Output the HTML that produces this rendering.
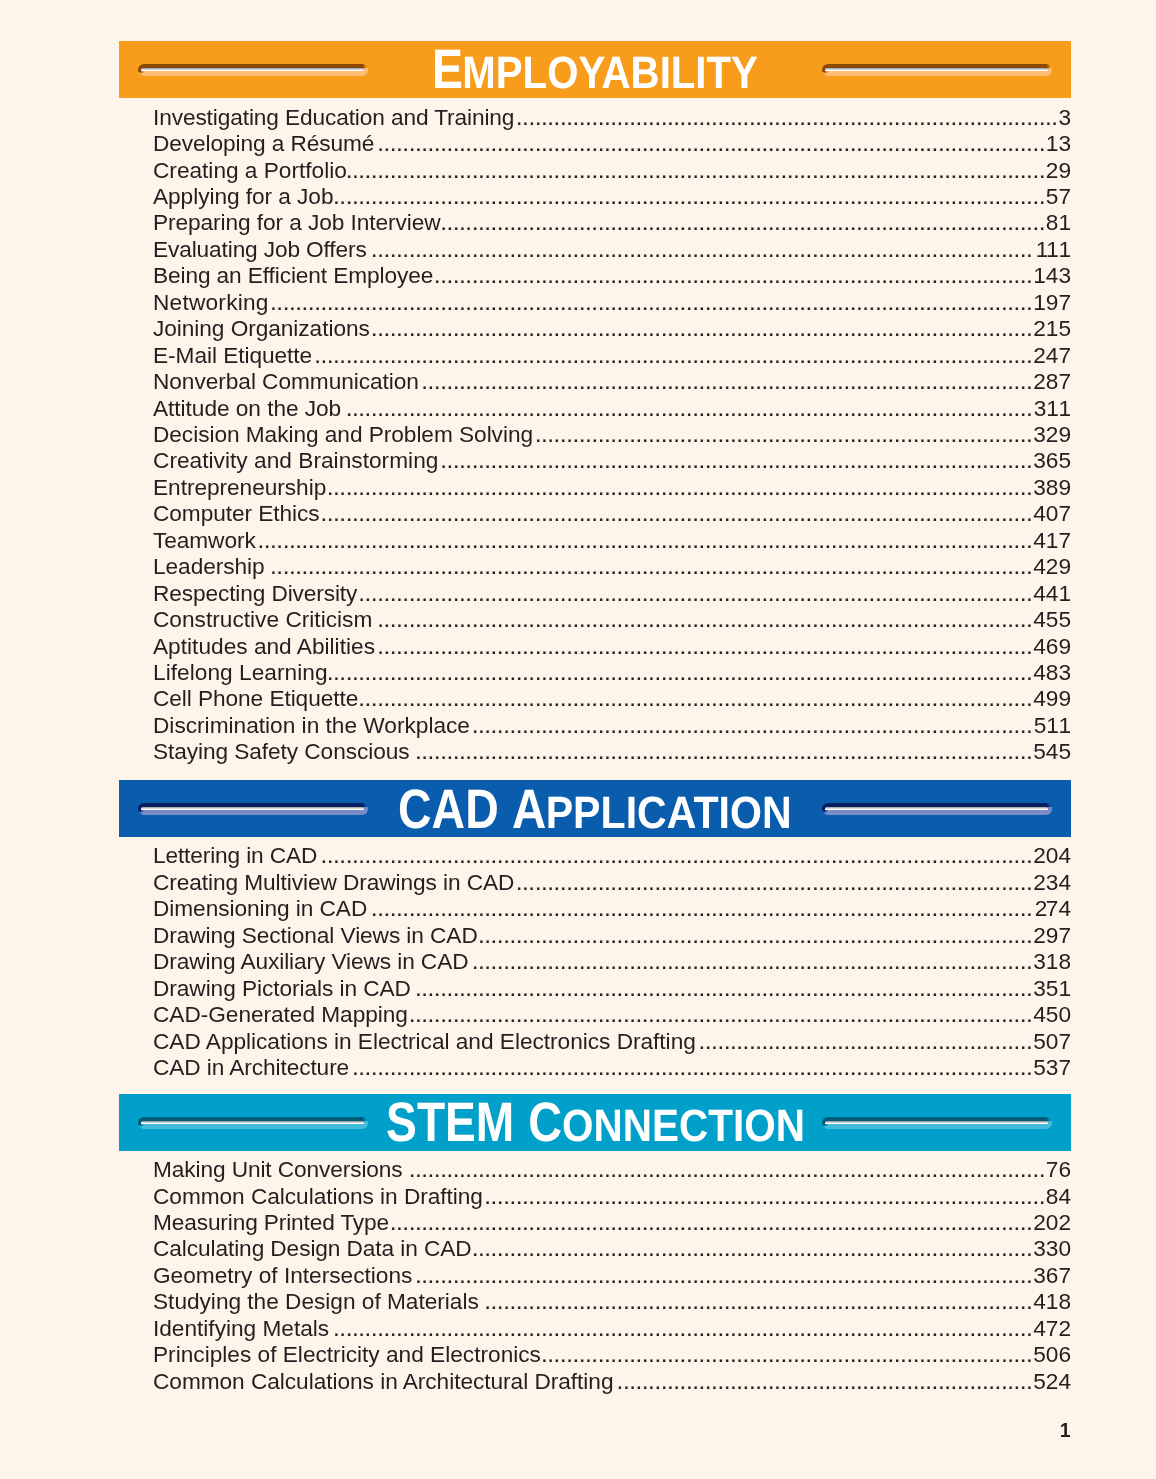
<!DOCTYPE html>
<html lang="en"><head><meta charset="utf-8"><title>Features</title>
<style>
html,body{margin:0;padding:0}
body{width:1156px;height:1479px;background:#fef4e9;overflow:hidden;position:relative;
 font-family:"Liberation Sans",sans-serif;color:#231f20}
.hd{position:absolute;left:119px;width:952px}
.emp{background:#f89c1c}
.cad{background:#0a5cad}
.stem{background:#00a0cb}
.gr{position:absolute;top:22.5px;height:12px;width:230px;border-radius:6px;overflow:hidden;filter:blur(.35px)}
.gr.l{left:18.8px}
.gr.r{left:702.5px}
.gr:after{content:"";position:absolute;left:3.5px;right:3.5px;top:4px;height:3.4px;border-radius:1.7px 1.7px 0 0;}
.emp .gr{background:linear-gradient(to left,#f89c1c 0,#f89c1c 1px,transparent 5.5px) right top/6px 4.2px no-repeat,linear-gradient(to right,#f89c1c 0,#f89c1c .5px,transparent 4.5px) left bottom/5px 3.6px no-repeat,linear-gradient(to right,#8a4800 0,#8a4800 2.5px,transparent 6px) left top/7px 9px no-repeat,linear-gradient(to left,#fdbd72 0,#fdbd72 3px,transparent 6px) right bottom/7px 7.8px no-repeat,linear-gradient(#8a4800 0,#8a4800 4.2px,#fdbd72 6.8px,#fdbd72 12px)}
.cad .gr{background:linear-gradient(to left,#0a5cad 0,#0a5cad 1px,transparent 5.5px) right top/6px 4.2px no-repeat,linear-gradient(to right,#0a5cad 0,#0a5cad .5px,transparent 4.5px) left bottom/5px 3.6px no-repeat,linear-gradient(to right,#041e60 0,#041e60 2.5px,transparent 6px) left top/7px 9px no-repeat,linear-gradient(to left,#7a8bc7 0,#7a8bc7 3px,transparent 6px) right bottom/7px 7.8px no-repeat,linear-gradient(#041e60 0,#041e60 4.2px,#7a8bc7 6.8px,#7a8bc7 12px)}
.stem .gr{background:linear-gradient(to left,#00a0cb 0,#00a0cb 1px,transparent 5.5px) right top/6px 4.2px no-repeat,linear-gradient(to right,#00a0cb 0,#00a0cb .5px,transparent 4.5px) left bottom/5px 3.6px no-repeat,linear-gradient(to right,#005d79 0,#005d79 2.5px,transparent 6px) left top/7px 9px no-repeat,linear-gradient(to left,#45bbdc 0,#45bbdc 3px,transparent 6px) right bottom/7px 7.8px no-repeat,linear-gradient(#005d79 0,#005d79 4.2px,#45bbdc 6.8px,#45bbdc 12px)}
.emp .gr:after{background:linear-gradient(#8b96a6,#fff 80%)}
.cad .gr:after{background:linear-gradient(#9a9a98,#fff 80%)}
.stem .gr:after{background:linear-gradient(#8a8a8a,#fff 80%)}
svg{position:absolute;left:0;top:0;overflow:visible}
text{font-family:"Liberation Sans",sans-serif;font-weight:bold;fill:#fff;text-rendering:geometricPrecision;stroke-width:0px}
.emp text{stroke:#f89c1c}
.cad text{stroke:#0a5cad}
.stem text{stroke:#00a0cb}
.b{font-size:55.5px}
.s{font-size:45.3px}
ul{position:absolute;left:153px;width:918px;margin:0;padding:0;list-style:none;font-size:22.667px;line-height:26.444px}
li{position:absolute;left:0;width:918px;height:26.444px;white-space:nowrap}
.t{letter-spacing:0px}
.d{position:absolute;top:0;text-align:right;letter-spacing:0.006px;-webkit-text-stroke:0.2px #231f20}
.n{position:absolute;right:0;top:0}
.k{letter-spacing:-0.5px}
.pg{position:absolute;font-weight:bold;font-size:19.4px;line-height:20px;right:85.5px;top:1420.4px}
</style></head><body>
<div class="hd emp" style="top:41.4px;height:56.4px"><i class="gr l"></i><i class="gr r"></i><svg width="952" height="56.4" viewBox="0 0 952 56.4"><text y="47.20"><tspan class="b" x="313.01" y="47.20" textLength="30.99" lengthAdjust="spacingAndGlyphs">E</tspan><tspan class="s" x="343.25" y="47.20" textLength="295.70" lengthAdjust="spacingAndGlyphs">MPLOYABILITY</tspan></text></svg></div>
<ul style="top:0">
<li style="top:104px"><span class="t" style="letter-spacing:-0.11px">Investigating Education and Training</span><span class="d" style="right:13.11px">......................................................................................</span><span class="n">3</span></li>
<li style="top:130px"><span class="t" style="letter-spacing:-0.08px">Developing a Résumé</span><span class="d" style="right:25.73px">..........................................................................................................</span><span class="n">13</span></li>
<li style="top:157px"><span class="t" style="letter-spacing:-0.007px">Creating a Portfolio</span><span class="d" style="right:25.73px">...............................................................................................................</span><span class="n">29</span></li>
<li style="top:183px"><span class="t" style="letter-spacing:-0.05px">Applying for a Job</span><span class="d" style="right:25.73px">.................................................................................................................</span><span class="n">57</span></li>
<li style="top:209px"><span class="t" style="letter-spacing:-0.072px">Preparing for a Job Interview</span><span class="d" style="right:25.73px">................................................................................................</span><span class="n">81</span></li>
<li style="top:236px"><span class="t" style="letter-spacing:-0.121px">Evaluating Job Offers</span><span class="d" style="right:38.34px">.........................................................................................................</span><span class="n"><span class="k">11</span>1</span></li>
<li style="top:262px"><span class="t" style="letter-spacing:-0.105px">Being an Efficient Employee</span><span class="d" style="right:38.34px">...............................................................................................</span><span class="n">143</span></li>
<li style="top:289px"><span class="t" style="letter-spacing:0.228px">Networking</span><span class="d" style="right:38.34px">.........................................................................................................................</span><span class="n">197</span></li>
<li style="top:315px"><span class="t" style="letter-spacing:-0.054px">Joining Organizations</span><span class="d" style="right:38.34px">.........................................................................................................</span><span class="n">215</span></li>
<li style="top:342px"><span class="t" style="letter-spacing:-0.049px">E-Mail Etiquette</span><span class="d" style="right:38.34px">..................................................................................................................</span><span class="n">247</span></li>
<li style="top:368px"><span class="t" style="letter-spacing:-0.045px">Nonverbal Communication</span><span class="d" style="right:38.34px">.................................................................................................</span><span class="n">287</span></li>
<li style="top:395px"><span class="t" style="letter-spacing:-0.041px">Attitude on the Job</span><span class="d" style="right:38.34px">.............................................................................................................</span><span class="n">3<span class="k">1</span>1</span></li>
<li style="top:421px"><span class="t" style="letter-spacing:-0.045px">Decision Making and Problem Solving</span><span class="d" style="right:38.34px">...............................................................................</span><span class="n">329</span></li>
<li style="top:447px"><span class="t" style="letter-spacing:0.029px">Creativity and Brainstorming</span><span class="d" style="right:38.34px">..............................................................................................</span><span class="n">365</span></li>
<li style="top:474px"><span class="t" style="letter-spacing:-0.036px">Entrepreneurship</span><span class="d" style="right:38.34px">................................................................................................................</span><span class="n">389</span></li>
<li style="top:500px"><span class="t" style="letter-spacing:-0.065px">Computer Ethics</span><span class="d" style="right:38.34px">.................................................................................................................</span><span class="n">407</span></li>
<li style="top:527px"><span class="t" style="letter-spacing:-0.072px">Teamwork</span><span class="d" style="right:38.34px">...........................................................................................................................</span><span class="n">417</span></li>
<li style="top:553px"><span class="t" style="letter-spacing:-0.045px">Leadership</span><span class="d" style="right:38.34px">.........................................................................................................................</span><span class="n">429</span></li>
<li style="top:580px"><span class="t" style="letter-spacing:-0.113px">Respecting Diversity</span><span class="d" style="right:38.34px">...........................................................................................................</span><span class="n">441</span></li>
<li style="top:606px"><span class="t" style="letter-spacing:0.013px">Constructive Criticism</span><span class="d" style="right:38.34px">........................................................................................................</span><span class="n">455</span></li>
<li style="top:633px"><span class="t" style="letter-spacing:0.013px">Aptitudes and Abilities</span><span class="d" style="right:38.34px">........................................................................................................</span><span class="n">469</span></li>
<li style="top:659px"><span class="t" style="letter-spacing:0.04px">Lifelong Learning</span><span class="d" style="right:38.34px">................................................................................................................</span><span class="n">483</span></li>
<li style="top:685px"><span class="t" style="letter-spacing:-0.068px">Cell Phone Etiquette</span><span class="d" style="right:38.34px">...........................................................................................................</span><span class="n">499</span></li>
<li style="top:712px"><span class="t" style="letter-spacing:0.002px">Discrimination in the Workplace</span><span class="d" style="right:38.34px">.........................................................................................</span><span class="n">5<span class="k">1</span>1</span></li>
<li style="top:738px"><span class="t" style="letter-spacing:-0.071px">Staying Safety Conscious</span><span class="d" style="right:38.34px">..................................................................................................</span><span class="n">545</span></li>
</ul>
<div class="hd cad" style="top:780.4px;height:56.7px"><i class="gr l"></i><i class="gr r"></i><svg width="952" height="56.7" viewBox="0 0 952 56.7"><text y="47.80"><tspan class="b" x="279.04" y="47.80" textLength="100.67" lengthAdjust="spacingAndGlyphs">CAD</tspan> <tspan class="b" x="392.96" y="47.80" textLength="34.31" lengthAdjust="spacingAndGlyphs">A</tspan><tspan class="s" x="426.70" y="47.80" textLength="245.94" lengthAdjust="spacingAndGlyphs">PPLICATION</tspan></text></svg></div>
<ul style="top:0">
<li style="top:842px"><span class="t" style="letter-spacing:-0.127px">Lettering in CAD</span><span class="d" style="right:38.34px">.................................................................................................................</span><span class="n">204</span></li>
<li style="top:869px"><span class="t" style="letter-spacing:-0.073px">Creating Multiview Drawings in CAD</span><span class="d" style="right:38.34px">..................................................................................</span><span class="n">234</span></li>
<li style="top:895px"><span class="t" style="letter-spacing:-0.058px">Dimensioning in CAD</span><span class="d" style="right:38.34px">.........................................................................................................</span><span class="n"><span style="letter-spacing:-1.6px">2</span>74</span></li>
<li style="top:922px"><span class="t" style="letter-spacing:-0.077px">Drawing Sectional Views in CAD</span><span class="d" style="right:38.34px">........................................................................................</span><span class="n">297</span></li>
<li style="top:948px"><span class="t" style="letter-spacing:-0.09px">Drawing Auxiliary Views in CAD</span><span class="d" style="right:38.34px">.........................................................................................</span><span class="n">318</span></li>
<li style="top:975px"><span class="t" style="letter-spacing:-0.06px">Drawing Pictorials in CAD</span><span class="d" style="right:38.34px">..................................................................................................</span><span class="n">351</span></li>
<li style="top:1001px"><span class="t" style="letter-spacing:-0.036px">CAD-Generated Mapping</span><span class="d" style="right:38.34px">...................................................................................................</span><span class="n">450</span></li>
<li style="top:1028px"><span class="t" style="letter-spacing:-0.022px">CAD Applications in Electrical and Electronics Drafting</span><span class="d" style="right:38.34px">.....................................................</span><span class="n">507</span></li>
<li style="top:1054px"><span class="t" style="letter-spacing:-0.083px">CAD in Architecture</span><span class="d" style="right:38.34px">............................................................................................................</span><span class="n">537</span></li>
</ul>
<div class="hd stem" style="top:1094.0px;height:57.0px"><i class="gr l"></i><i class="gr r"></i><svg width="952" height="57.0" viewBox="0 0 952 57.0"><text y="47.00"><tspan class="b" x="267.11" y="47.00" textLength="128.17" lengthAdjust="spacingAndGlyphs">STEM</tspan> <tspan class="b" x="409.36" y="47.00" textLength="33.85" lengthAdjust="spacingAndGlyphs">C</tspan><tspan class="s" x="443.00" y="47.00" textLength="242.95" lengthAdjust="spacingAndGlyphs">ONNECTION</tspan></text></svg></div>
<ul style="top:0">
<li style="top:1156px"><span class="t" style="letter-spacing:-0.099px">Making Unit Conversions</span><span class="d" style="right:25.73px">.....................................................................................................</span><span class="n">76</span></li>
<li style="top:1183px"><span class="t" style="letter-spacing:-0.04px">Common Calculations in Drafting</span><span class="d" style="right:25.73px">.........................................................................................</span><span class="n">84</span></li>
<li style="top:1209px"><span class="t" style="letter-spacing:-0.13px">Measuring Printed Type</span><span class="d" style="right:38.34px">......................................................................................................</span><span class="n">202</span></li>
<li style="top:1235px"><span class="t" style="letter-spacing:-0.086px">Calculating Design Data in CAD</span><span class="d" style="right:38.34px">.........................................................................................</span><span class="n">330</span></li>
<li style="top:1262px"><span class="t" style="letter-spacing:-0.003px">Geometry of Intersections</span><span class="d" style="right:38.34px">..................................................................................................</span><span class="n">367</span></li>
<li style="top:1288px"><span class="t" style="letter-spacing:-0.014px">Studying the Design of Materials</span><span class="d" style="right:38.34px">.......................................................................................</span><span class="n">418</span></li>
<li style="top:1315px"><span class="t" style="letter-spacing:-0.01px">Identifying Metals</span><span class="d" style="right:38.34px">...............................................................................................................</span><span class="n">472</span></li>
<li style="top:1341px"><span class="t" style="letter-spacing:0.003px">Principles of Electricity and Electronics</span><span class="d" style="right:38.34px">..............................................................................</span><span class="n">506</span></li>
<li style="top:1368px"><span class="t" style="letter-spacing:-0.037px">Common Calculations in Architectural Drafting</span><span class="d" style="right:38.34px">..................................................................</span><span class="n">524</span></li>
</ul>
<div class="pg">1</div>
</body></html>
